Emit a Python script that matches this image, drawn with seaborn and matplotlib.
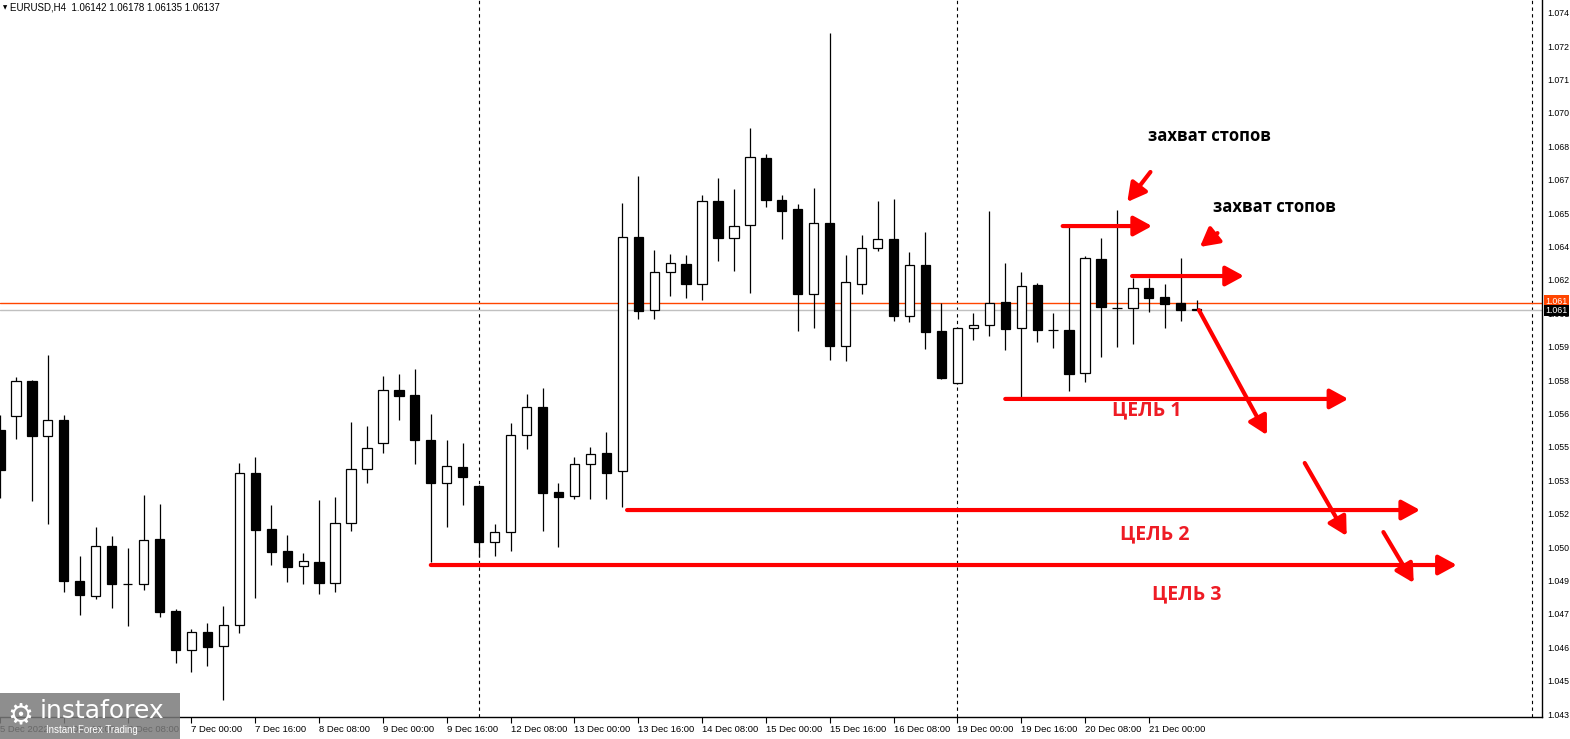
import numpy as np
import matplotlib
matplotlib.use("Agg")
import matplotlib.pyplot as plt
import matplotlib.transforms as mtransforms
from matplotlib.patches import Rectangle
import seaborn as sns

# --- candle data (H4 bars, index -1 = 5 Dec 00:00, index 74 = last bar) ---
bar_idx = list(range(-1, 75))
opens = [1.05607, 1.05669, 1.05823, 1.05581, 1.05651, 1.04943, 1.04877, 1.05097, 1.04929, 1.04929,
         1.05127, 1.04811, 1.04639, 1.04718, 1.04656, 1.04749, 1.05418, 1.05172, 1.05075, 1.05009,
         1.05026, 1.04934, 1.05198, 1.05435, 1.05550, 1.05783, 1.05761, 1.05563, 1.05374, 1.05444,
         1.05361, 1.05114, 1.05158, 1.05585, 1.05708, 1.05334, 1.05317, 1.05458, 1.05506, 1.05427,
         1.06457, 1.06135, 1.06303, 1.06338, 1.06250, 1.06615, 1.06452, 1.06509, 1.06804, 1.06619,
         1.06580, 1.06206, 1.06518, 1.05977, 1.06250, 1.06408, 1.06448, 1.06109, 1.06333, 1.06043,
         1.05814, 1.06056, 1.06069, 1.06171, 1.06056, 1.06245, 1.06047, 1.06047, 1.05858, 1.06360,
         1.06144, 1.06144, 1.06232, 1.06192, 1.06166, 1.06142]
highs = [1.05673, 1.05840, 1.05828, 1.05937, 1.05673, 1.05053, 1.05180, 1.05141, 1.05088, 1.05321,
         1.05282, 1.04820, 1.04731, 1.04758, 1.04833, 1.05462, 1.05488, 1.05277, 1.05145, 1.05066,
         1.05299, 1.05312, 1.05642, 1.05625, 1.05845, 1.05854, 1.05876, 1.05677, 1.05563, 1.05550,
         1.05365, 1.05194, 1.05638, 1.05765, 1.05792, 1.05374, 1.05488, 1.05532, 1.05598, 1.06606,
         1.06725, 1.06399, 1.06382, 1.06377, 1.06642, 1.06716, 1.06668, 1.06936, 1.06822, 1.06642,
         1.06602, 1.06672, 1.07354, 1.06377, 1.06465, 1.06615, 1.06624, 1.06390, 1.06478, 1.06166,
         1.06060, 1.06122, 1.06571, 1.06342, 1.06303, 1.06254, 1.06122, 1.06505, 1.06373, 1.06452,
         1.06575, 1.06276, 1.06276, 1.06250, 1.06364, 1.06178]
lows = [1.05308, 1.05568, 1.05295, 1.05194, 1.04894, 1.04793, 1.04863, 1.04824, 1.04745, 1.04903,
        1.04784, 1.04582, 1.04542, 1.04569, 1.04419, 1.04714, 1.04868, 1.05013, 1.04938, 1.04929,
        1.04885, 1.04894, 1.05163, 1.05374, 1.05506, 1.05651, 1.05458, 1.05026, 1.05180, 1.05277,
        1.05048, 1.05053, 1.05075, 1.05524, 1.05163, 1.05092, 1.05304, 1.05304, 1.05304, 1.05268,
        1.06096, 1.06096, 1.06197, 1.06188, 1.06179, 1.06351, 1.06307, 1.06210, 1.06589, 1.06448,
        1.06043, 1.06056, 1.05915, 1.05911, 1.06206, 1.06395, 1.06087, 1.06082, 1.05964, 1.05832,
        1.05810, 1.06003, 1.06021, 1.05959, 1.05748, 1.05994, 1.05968, 1.05779, 1.05818, 1.05928,
        1.05972, 1.05986, 1.06126, 1.06056, 1.06087, 1.06135]
closes = [1.05431, 1.05823, 1.05581, 1.05651, 1.04943, 1.04881, 1.05097, 1.04929, 1.04929, 1.05123,
          1.04806, 1.04639, 1.04718, 1.04652, 1.04749, 1.05418, 1.05167, 1.05070, 1.05004, 1.05031,
          1.04934, 1.05198, 1.05435, 1.05528, 1.05783, 1.05757, 1.05563, 1.05374, 1.05449, 1.05400,
          1.05114, 1.05158, 1.05585, 1.05708, 1.05330, 1.05312, 1.05458, 1.05502, 1.05418, 1.06457,
          1.06131, 1.06303, 1.06342, 1.06250, 1.06615, 1.06452, 1.06505, 1.06809, 1.06619, 1.06571,
          1.06206, 1.06518, 1.05977, 1.06258, 1.06408, 1.06448, 1.06109, 1.06333, 1.06038, 1.05836,
          1.06056, 1.06069, 1.06166, 1.06052, 1.06241, 1.06047, 1.06047, 1.05854, 1.06364, 1.06149,
          1.06144, 1.06232, 1.06188, 1.06162, 1.06135, 1.06137]

# x-axis time labels and the bars they sit on
xtick_idx = [-1, 3, 7, 11, 15, 19, 23, 27, 31, 35, 39, 43, 47, 51, 55, 59, 63, 67, 71]
xtick_labels = ["5 Dec 2022", "5 Dec 16:00", "6 Dec 08:00", "7 Dec 00:00", "7 Dec 16:00",
                "8 Dec 08:00", "9 Dec 00:00", "9 Dec 16:00", "12 Dec 08:00", "13 Dec 00:00",
                "13 Dec 16:00", "14 Dec 08:00", "15 Dec 00:00", "15 Dec 16:00", "16 Dec 08:00",
                "19 Dec 00:00", "19 Dec 16:00", "20 Dec 08:00", "21 Dec 00:00"]

# price scale labels (top to bottom)
ytick_labels = ["1.074", "1.072", "1.071", "1.070", "1.068", "1.067", "1.065", "1.064", "1.062",
                "1.061", "1.059", "1.058", "1.056", "1.055", "1.053", "1.052", "1.050", "1.049",
                "1.047", "1.046", "1.045", "1.043"]
ytick_top = 1.07444
ytick_step = 0.00147

separators = [29, 59, 95]
bid_price = 1.06137
ask_price = 1.06166

# target lines (start bar, end bar, price) and their labels
targets = [(62.0, 83.5, 1.05744), (38.3, 88.0, 1.05255), (26.0, 90.3, 1.05013)]
target_names = ["ЦЕЛЬ 1", "ЦЕЛЬ 2", "ЦЕЛЬ 3"]
target_text_pos = [(70.9, 1.05695), (71.4, 1.05149), (73.4, 1.04885)]

# stop-hunt arrows
stop_lines = [(65.6, 71.2, 1.06505), (69.95, 76.96, 1.06285)]
stop_pointers = [((71.1, 1.06743), (69.65, 1.06611)), ((75.3, 1.06474), (74.2, 1.06413))]
stop_text_pos = [(74.8, 1.06901), (78.9, 1.06589)]

# expected move arrows
move_arrows = [((74.14, 1.06135), (78.4, 1.05585)),
               ((80.77, 1.05462), (83.4, 1.05141)),
               ((85.7, 1.05158), (87.6, 1.04934))]

sns.set_theme(style="white")
plt.rcParams["font.family"] = ["Liberation Sans", "DejaVu Sans"]

W, H = 1570, 739
fig = plt.figure(figsize=(W / 100, H / 100), dpi=100)
ax = fig.add_axes([0, 22 / H, 1542 / W, 717 / H])
ax.set_facecolor("white")

df_x = np.array(bar_idx, dtype=float)
o = np.array(opens)
h = np.array(highs)
l = np.array(lows)
c = np.array(closes)

# wicks
ax.vlines(df_x, l, h, color="black", lw=0.9, zorder=3)
# bodies
up = c >= o
body_low = np.minimum(o, c)
body_h = np.maximum(np.abs(c - o), 0.000001)
ax.bar(df_x[up], body_h[up], bottom=body_low[up], width=0.58, color="white",
       edgecolor="black", linewidth=0.9, zorder=4)
ax.bar(df_x[~up], body_h[~up], bottom=body_low[~up], width=0.58, color="black",
       edgecolor="black", linewidth=0.9, zorder=4)

# bid / ask lines
ax.axhline(ask_price, color="#ff4500", lw=1, zorder=2)
ax.axhline(bid_price, color="#c0c0c0", lw=1, zorder=2)

# period separators
for s in separators:
    ax.axvline(s, color="black", lw=0.8, ls=(0, (3, 3)), zorder=1)

red = "#ff0000"
aprops = dict(arrowstyle="-|>,head_length=0.55,head_width=0.3", color=red, lw=3,
              shrinkA=0, shrinkB=0, mutation_scale=20)

for (x0, x1, p), name, (tx, ty) in zip(targets, target_names, target_text_pos):
    ax.annotate("", xy=(x1, p), xytext=(x0, p), arrowprops=aprops, zorder=6)
    ax.text(tx, ty, name, color="#ee1c25", fontsize=14, fontweight="bold",
            family="Open Sans", ha="center", va="center", zorder=6)

for (x0, x1, p) in stop_lines:
    ax.annotate("", xy=(x1, p), xytext=(x0, p), arrowprops=aprops, zorder=6)
for (start, end) in stop_pointers + move_arrows:
    ax.annotate("", xy=end, xytext=start, arrowprops=aprops, zorder=6)
for (tx, ty) in stop_text_pos:
    ax.text(tx, ty, "захват стопов", color="black", fontsize=12, fontweight="bold",
            family="Open Sans", ha="center", va="center", zorder=6)

ax.set_xlim(-0.731, 95.64)
ax.set_ylim(1.04344, 1.07500)

# price axis on the right
ax.yaxis.tick_right()
ytick_vals = [ytick_top - ytick_step * i for i in range(len(ytick_labels))]
ax.set_yticks(ytick_vals)
ax.set_yticklabels(ytick_labels)
ax.tick_params(axis="y", right=True, direction="out", length=3, width=0.8,
               labelsize=6.3, pad=1, colors="black")

ax.set_xticks(xtick_idx)
ax.set_xticklabels(xtick_labels)
ax.tick_params(axis="x", bottom=True, direction="out", length=4, width=0.8,
               labelsize=6.8, pad=2, colors="black")
for lab in ax.get_xticklabels():
    lab.set_horizontalalignment("left")

ax.grid(False)
sns.despine(ax=ax, left=True, top=True, right=False, bottom=False)
for sp in ("right", "bottom"):
    ax.spines[sp].set_color("black")
    ax.spines[sp].set_linewidth(1)

# current price markers on the price scale
blend = mtransforms.blended_transform_factory(ax.transAxes, ax.transData)
ax.text(1.002, ask_price + 0.00008, "1.061", transform=blend, fontsize=6.3, color="white",
        va="center", ha="left", clip_on=False, zorder=7,
        bbox=dict(facecolor="#ff4500", edgecolor="none", pad=1))
ax.text(1.002, bid_price - 0.00004, "1.061", transform=blend, fontsize=6.3, color="white",
        va="center", ha="left", clip_on=False, zorder=8,
        bbox=dict(facecolor="black", edgecolor="none", pad=1))

# header
fig.text(3 / W, 1 - 8 / H, "▼", fontsize=4, color="black", va="center", family="DejaVu Sans")
fig.text(10 / W, 1 - 8 / H, "EURUSD,H4  1.06142 1.06178 1.06135 1.06137", fontsize=7,
         color="black", va="center")

# watermark logo
fig.add_artist(Rectangle((0, 0), 180 / W, 46 / H, transform=fig.transFigure,
                         facecolor="#7a7a7a", edgecolor="none", alpha=0.85, zorder=10))
fig.text(20 / W, 1 - 715 / H, "⚙", fontsize=21, color="white", ha="center", va="center",
         family="DejaVu Sans", zorder=11)
fig.text(40 / W, 1 - 711 / H, "instaforex", fontsize=18, color="white", va="center",
         family="DejaVu Sans", zorder=11)
fig.text(46 / W, 1 - 730 / H, "Instant Forex Trading", fontsize=7, color="white",
         va="center", zorder=11)

fig.savefig("out.png", dpi=100, facecolor="white")
